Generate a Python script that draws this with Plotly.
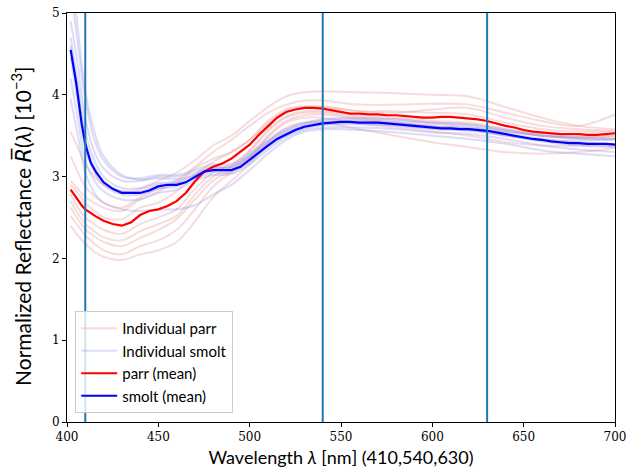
import plotly.graph_objects as go

# ---------------- data ----------------
wl_mean = [402, 405, 408, 410, 413, 416, 420, 425, 430, 435, 440, 445, 450, 455, 460, 465,
           470, 475, 480, 485, 490, 495, 500, 505, 510, 515, 520, 525, 530, 535, 540, 545,
           550, 555, 560, 565, 570, 575, 580, 585, 590, 595, 600, 605, 610, 615, 620, 625,
           630, 635, 640, 645, 650, 655, 660, 665, 670, 675, 680, 685, 690, 695, 700]

parr_mean = [2.84, 2.74, 2.65, 2.60, 2.55, 2.51, 2.46, 2.42, 2.40, 2.44, 2.53, 2.58, 2.60, 2.64,
             2.70, 2.80, 2.94, 3.06, 3.12, 3.16, 3.22, 3.30, 3.39, 3.51, 3.62, 3.72, 3.79, 3.82,
             3.84, 3.84, 3.83, 3.81, 3.79, 3.77, 3.77, 3.76, 3.76, 3.75, 3.75, 3.74, 3.73, 3.72,
             3.72, 3.73, 3.73, 3.72, 3.71, 3.70, 3.68, 3.65, 3.62, 3.60, 3.57, 3.55, 3.54, 3.53,
             3.52, 3.52, 3.52, 3.51, 3.51, 3.52, 3.53]

smolt_mean = [4.55, 4.15, 3.65, 3.40, 3.17, 3.05, 2.93, 2.85, 2.80, 2.80, 2.80, 2.83, 2.88, 2.90,
              2.90, 2.93, 3.00, 3.06, 3.08, 3.08, 3.08, 3.12, 3.21, 3.30, 3.38, 3.46, 3.52, 3.57,
              3.61, 3.63, 3.65, 3.66, 3.67, 3.67, 3.66, 3.66, 3.66, 3.65, 3.64, 3.63, 3.62, 3.61,
              3.60, 3.59, 3.59, 3.58, 3.58, 3.57, 3.56, 3.54, 3.52, 3.50, 3.48, 3.46, 3.45, 3.43,
              3.42, 3.41, 3.41, 3.40, 3.40, 3.40, 3.39]

wl_ind = [402, 406, 410, 415, 420, 430, 440, 450, 460, 470, 480, 490, 500, 510, 520, 530,
          540, 560, 580, 600, 620, 640, 660, 680, 700]

parr_1 = [3.55, 3.35, 3.15, 3.00, 2.90, 2.82, 2.85, 2.95, 3.05, 3.20, 3.38, 3.50, 3.68, 3.85,
          3.98, 4.03, 4.04, 4.03, 4.02, 4.00, 3.98, 3.85, 3.72, 3.62, 3.58]
parr_2 = [2.95, 2.85, 2.75, 2.68, 2.62, 2.58, 2.72, 2.82, 2.95, 3.12, 3.30, 3.45, 3.62, 3.78,
          3.88, 3.93, 3.93, 3.88, 3.88, 3.89, 3.88, 3.78, 3.68, 3.62, 3.76]
parr_3 = [2.90, 2.80, 2.68, 2.58, 2.50, 2.48, 2.62, 2.68, 2.82, 3.02, 3.18, 3.30, 3.45, 3.68,
          3.82, 3.86, 3.86, 3.80, 3.78, 3.82, 3.84, 3.72, 3.62, 3.58, 3.56]
parr_4 = [2.78, 2.62, 2.50, 2.42, 2.35, 2.30, 2.42, 2.50, 2.60, 2.85, 3.05, 3.15, 3.32, 3.58,
          3.74, 3.80, 3.80, 3.74, 3.72, 3.68, 3.66, 3.58, 3.50, 3.48, 3.50]
parr_5 = [2.70, 2.55, 2.42, 2.33, 2.26, 2.22, 2.33, 2.42, 2.52, 2.78, 3.00, 3.12, 3.30, 3.55,
          3.72, 3.78, 3.78, 3.72, 3.70, 3.66, 3.64, 3.56, 3.50, 3.48, 3.50]
parr_6 = [2.62, 2.48, 2.36, 2.27, 2.20, 2.15, 2.25, 2.35, 2.48, 2.72, 2.95, 3.08, 3.25, 3.50,
          3.68, 3.75, 3.76, 3.70, 3.66, 3.62, 3.58, 3.50, 3.45, 3.44, 3.46]
parr_7 = [2.52, 2.40, 2.28, 2.18, 2.10, 2.05, 2.15, 2.22, 2.35, 2.60, 2.88, 3.05, 3.22, 3.48,
          3.66, 3.72, 3.72, 3.65, 3.60, 3.55, 3.50, 3.42, 3.38, 3.38, 3.40]
parr_8 = [2.40, 2.28, 2.18, 2.08, 2.02, 1.98, 2.05, 2.10, 2.20, 2.45, 2.75, 2.95, 3.15, 3.42,
          3.60, 3.66, 3.66, 3.58, 3.50, 3.42, 3.36, 3.30, 3.28, 3.30, 3.35]
parr_9 = [3.25, 3.05, 2.88, 2.76, 2.68, 2.62, 2.75, 2.85, 2.92, 3.10, 3.22, 3.30, 3.45, 3.65,
          3.80, 3.85, 3.85, 3.80, 3.80, 3.78, 3.76, 3.66, 3.58, 3.55, 3.55]

smolt_1 = [5.30, 4.60, 3.95, 3.45, 3.20, 3.00, 2.98, 3.02, 3.02, 3.08, 3.15, 3.15, 3.28, 3.45,
           3.58, 3.66, 3.70, 3.72, 3.70, 3.66, 3.64, 3.58, 3.52, 3.48, 3.47]
smolt_2 = [4.90, 4.35, 3.72, 3.30, 3.10, 2.95, 2.95, 3.00, 3.00, 3.05, 3.12, 3.12, 3.25, 3.42,
           3.55, 3.63, 3.67, 3.68, 3.66, 3.62, 3.60, 3.55, 3.50, 3.46, 3.45]
smolt_3 = [4.70, 4.15, 3.55, 3.20, 3.00, 2.86, 2.86, 2.92, 2.94, 3.02, 3.10, 3.10, 3.23, 3.40,
           3.54, 3.62, 3.66, 3.67, 3.65, 3.61, 3.59, 3.53, 3.46, 3.42, 3.40]
smolt_4 = [4.45, 3.90, 3.35, 3.05, 2.90, 2.78, 2.78, 2.85, 2.88, 2.98, 3.05, 3.05, 3.18, 3.36,
           3.50, 3.59, 3.63, 3.64, 3.62, 3.58, 3.56, 3.50, 3.43, 3.38, 3.36]
smolt_5 = [4.20, 3.70, 3.20, 2.95, 2.82, 2.72, 2.72, 2.80, 2.84, 2.95, 3.02, 3.03, 3.15, 3.33,
           3.48, 3.57, 3.60, 3.60, 3.58, 3.54, 3.52, 3.46, 3.38, 3.33, 3.30]
smolt_6 = [3.95, 3.50, 3.05, 2.80, 2.68, 2.60, 2.58, 2.60, 2.60, 2.65, 2.78, 2.90, 3.08, 3.28,
           3.45, 3.55, 3.58, 3.57, 3.54, 3.50, 3.46, 3.40, 3.32, 3.28, 3.25]
smolt_7 = [5.60, 4.80, 4.05, 3.55, 3.25, 3.02, 2.96, 2.98, 2.97, 3.02, 3.10, 3.12, 3.26, 3.43,
           3.57, 3.65, 3.69, 3.70, 3.68, 3.65, 3.62, 3.56, 3.50, 3.47, 3.46]
smolt_8 = [4.60, 4.05, 3.45, 3.12, 2.95, 2.82, 2.82, 2.90, 2.92, 3.00, 3.08, 3.08, 3.20, 3.38,
           3.52, 3.60, 3.64, 3.65, 3.63, 3.59, 3.57, 3.51, 3.44, 3.40, 3.37]

parr_individuals = [parr_1, parr_2, parr_3, parr_4, parr_5, parr_6, parr_7, parr_8, parr_9]
smolt_individuals = [smolt_1, smolt_2, smolt_3, smolt_4, smolt_5, smolt_6, smolt_7, smolt_8]

band_lines = [410, 540, 630]
x_ticks = [400, 450, 500, 550, 600, 650, 700]
y_ticks = [0, 1, 2, 3, 4, 5]

# ---------------- figure ----------------
PARR_IND = "rgba(225,140,140,0.30)"
SMOLT_IND = "rgba(140,140,225,0.30)"
SANS = "Lato, DejaVu Sans, sans-serif"
SERIF = "DejaVu Serif, Liberation Serif, serif"

fig = go.Figure()

for i, ys in enumerate(parr_individuals):
    fig.add_trace(go.Scatter(x=wl_ind, y=ys, mode="lines", line=dict(color=PARR_IND, width=2, shape="spline"),
                             name="Individual parr", legendgroup="ip", showlegend=(i == 0)))
for i, ys in enumerate(smolt_individuals):
    fig.add_trace(go.Scatter(x=wl_ind, y=ys, mode="lines", line=dict(color=SMOLT_IND, width=2, shape="spline"),
                             name="Individual smolt", legendgroup="is", showlegend=(i == 0)))

fig.add_trace(go.Scatter(x=wl_mean, y=parr_mean, mode="lines", line=dict(color="#ff0000", width=2.2),
                         name="parr (mean)", legendgroup="pm"))
fig.add_trace(go.Scatter(x=wl_mean, y=smolt_mean, mode="lines", line=dict(color="#0000ff", width=2.2),
                         name="smolt (mean)", legendgroup="sm"))

for xv in band_lines:
    fig.add_vline(x=xv, line=dict(color="#1f77b4", width=2))

axis_common = dict(showline=True, linecolor="black", linewidth=1, mirror=True, ticks="outside",
                   ticklen=4, tickcolor="black", showgrid=False, zeroline=False, automargin=False,
                   ticklabeloverflow="allow",
                   tickfont=dict(family=SERIF, size=12, color="black"))

fig.add_annotation(
    text='Normalized Reflectance <span style="font-family:DejaVu Sans"><i>R̅</i></span>(<i>λ</i>) [10<sup>−3</sup>]',
    xref="paper", yref="paper", x=-0.082, y=0.477, xanchor="center", yanchor="middle",
    textangle=-90, showarrow=False, font=dict(family=SANS, size=21, color="black"))

fig.update_layout(
    width=639, height=475,
    margin=dict(l=67, r=24, t=13, b=53),
    plot_bgcolor="white", paper_bgcolor="white",
    xaxis=dict(range=[400, 700], tickvals=x_ticks, **axis_common,
               title=dict(text="Wavelength <i>λ</i> [nm] (410,540,630)", standoff=7,
                          font=dict(family=SANS, size=18, color="black"))),
    yaxis=dict(range=[0, 5], tickvals=y_ticks, **axis_common),
    legend=dict(x=0.015, y=0.022, xanchor="left", yanchor="bottom",
                bgcolor="rgba(255,255,255,0.8)", bordercolor="#cccccc", borderwidth=1,
                font=dict(family=SANS, size=15, color="black"),
                traceorder="grouped", tracegroupgap=0, itemwidth=36),
    showlegend=True,
)

fig.write_html("out.html", config={"displayModeBar": False},
               post_script="document.body.style.margin='0px';")
